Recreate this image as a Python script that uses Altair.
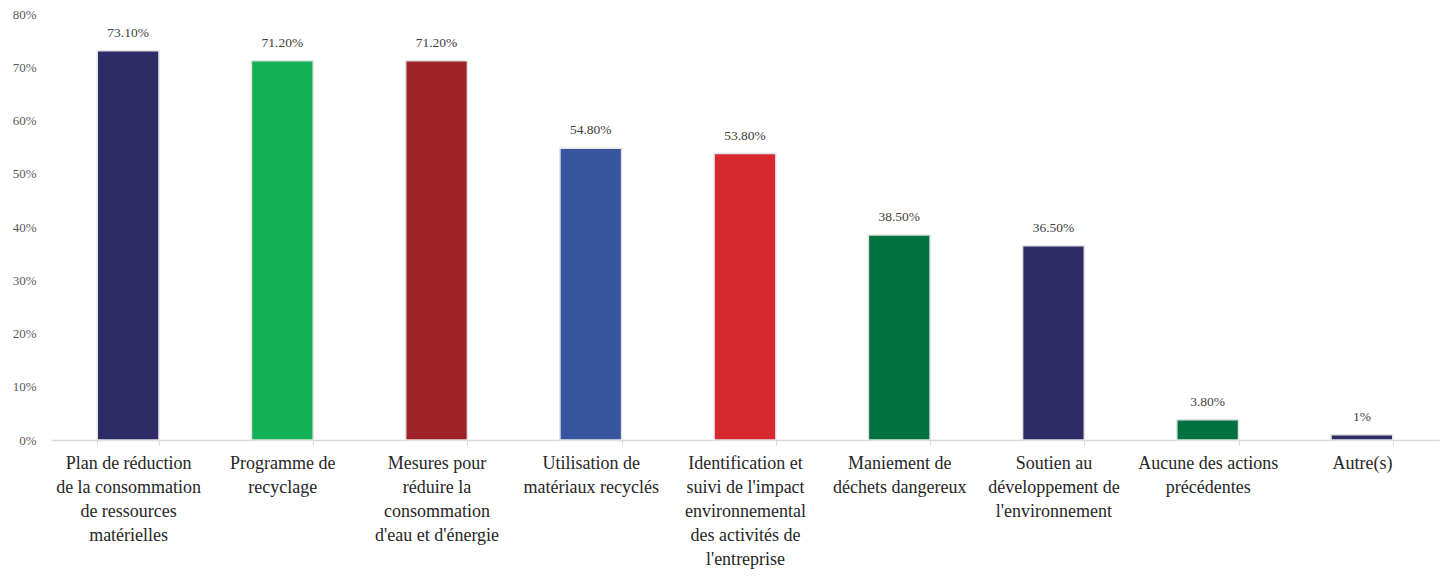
import json
import altair as alt
import pandas as pd

categories = [
    "Plan de réduction de la consommation de ressources matérielles",
    "Programme de recyclage",
    "Mesures pour réduire la consommation d'eau et d'énergie",
    "Utilisation de matériaux recyclés",
    "Identification et suivi de l'impact environnemental des activités de l'entreprise",
    "Maniement de déchets dangereux",
    "Soutien au développement de l'environnement",
    "Aucune des actions précédentes",
    "Autre(s)",
]
wrapped = [
    ["Plan de réduction", "de la consommation", "de ressources", "matérielles"],
    ["Programme de", "recyclage"],
    ["Mesures pour", "réduire la", "consommation", "d'eau et d'énergie"],
    ["Utilisation de", "matériaux recyclés"],
    ["Identification et", "suivi de l'impact", "environnemental", "des activités de", "l'entreprise"],
    ["Maniement de", "déchets dangereux"],
    ["Soutien au", "développement de", "l'environnement"],
    ["Aucune des actions", "précédentes"],
    ["Autre(s)"],
]
values = [73.1, 71.2, 71.2, 54.8, 53.8, 38.5, 36.5, 3.8, 1.0]
value_labels = ["73.10%", "71.20%", "71.20%", "54.80%", "53.80%", "38.50%", "36.50%", "3.80%", "1%"]
colors = ["#2E2C66", "#13B155", "#9E2227", "#3A559F", "#D8282F",
          "#00723F", "#2E2C66", "#00723F", "#2E2C66"]
y_ticks = [0, 10, 20, 30, 40, 50, 60, 70, 80]

df = pd.DataFrame({
    "cat": categories,
    "val": values,
    "lab": value_labels,
    "col": colors,
})

FONT = "Liberation Serif"
mapping = json.dumps(dict(zip(categories, wrapped)), ensure_ascii=False)

x_enc = alt.X(
    "cat:N",
    sort=categories,
    title=None,
    scale=alt.Scale(paddingInner=0.6, paddingOuter=0.3),
    axis=alt.Axis(
        labelAngle=0,
        labelExpr=f"{mapping}[datum.value]",
        labelFont=FONT,
        labelFontSize=18,
        labelColor="#262626",
        labelLineHeight=24,
        labelPadding=9,
        labelLimit=300,
        tickBand="extent",
        tickSize=5,
        tickColor="#D9D9D9",
        domainColor="#D9D9D9",
        domainWidth=1.5,
        grid=False,
    ),
)
y_enc = alt.Y(
    "val:Q",
    title=None,
    scale=alt.Scale(domain=[0, 80], nice=False),
    axis=alt.Axis(
        values=y_ticks,
        labelExpr="datum.value + '%'",
        labelFont=FONT,
        labelFontSize=13,
        labelColor="#595959",
        labelPadding=15,
        domain=False,
        ticks=False,
        grid=False,
    ),
)

bars = alt.Chart(df).mark_bar(stroke="#E3E3E3", strokeWidth=1.5).encode(
    x=x_enc,
    y=y_enc,
    color=alt.Color("col:N", scale=None),
)
texts = alt.Chart(df).mark_text(
    dy=-11, font=FONT, fontSize=13.5, color="#404040", baseline="bottom"
).encode(
    x=alt.X("cat:N", sort=categories),
    y=alt.Y("val:Q"),
    text="lab:N",
)

chart = (
    alt.layer(bars, texts)
    .properties(
        width=1388,
        height=426,
        background="white",
        padding={"left": 43, "top": 6, "right": 2, "bottom": 130},
        autosize=alt.AutoSizeParams(type="none"),
    )
    .configure_view(stroke=None, strokeWidth=0)
)

chart.save("out.html", embed_options={"renderer": "svg", "actions": False})
